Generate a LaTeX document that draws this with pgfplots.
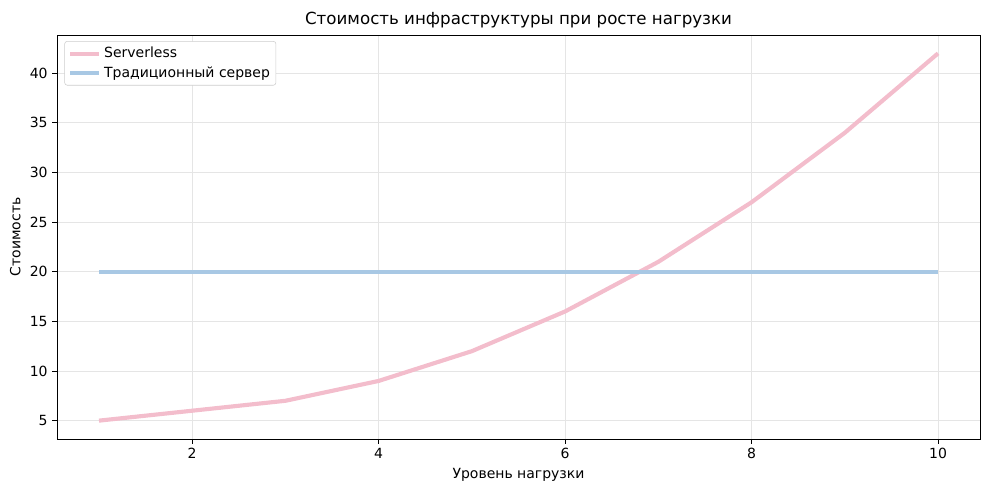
\documentclass[border=0pt]{standalone}
\usepackage{fontspec}
\setmainfont{DejaVu Sans}
\usepackage{pgfplots}
\pgfplotsset{compat=1.18}
\definecolor{spink}{RGB}{243,189,204}
\definecolor{sblue}{RGB}{168,200,228}
\begin{document}
\begin{tikzpicture}
\path[use as bounding box] (-42.75pt,-43.5pt) rectangle (703.5pt,329.25pt);
\begin{axis}[
  at={(0,0)}, anchor=south west,
  scale only axis, width=692.25pt, height=303pt,
  xmin=0.55, xmax=10.45, ymin=3.15, ymax=43.85,
  xtick={2,4,6,8,10}, ytick={5,10,15,20,25,30,35,40},
  /pgf/number format/assume math mode=true,
  tick label style={font=\fontsize{10.5}{12}\selectfont, color=black},
  label style={font=\fontsize{10.5}{12}\selectfont},
  title style={font=\fontsize{12.5}{14}\selectfont, yshift=-4pt},
  title={Стоимость инфраструктуры при росте нагрузки},
  xlabel={Уровень нагрузки}, ylabel={Стоимость},
  grid=major, major grid style={color=black!10, line width=0.6pt},
  axis line style={line width=0.7pt},
  tick style={color=black, line width=0.7pt},
  tick align=outside, major tick length=3.5pt,
  xtick pos=bottom, ytick pos=left,
  legend style={font=\fontsize{10.5}{12}\selectfont, draw=black!20, rounded corners=2pt, inner sep=2.5pt, row sep=1pt, at={(0.008,0.985)}, anchor=north west},
  legend cell align=left,
  legend image code/.code={\draw[#1] (0pt,0pt) -- (22pt,0pt);},
]
\addplot[spink, line width=3.1pt, line join=round] coordinates {
(1,5) (2,6) (3,7) (4,9) (5,12) (6,16) (7,21) (8,27) (9,34) (10,42)};
\addlegendentry{Serverless}
\addplot[sblue, line width=3.1pt] coordinates {
(1,20) (2,20) (3,20) (4,20) (5,20) (6,20) (7,20) (8,20) (9,20) (10,20)};
\addlegendentry{Традиционный сервер}
\end{axis}
\end{tikzpicture}
\end{document}
